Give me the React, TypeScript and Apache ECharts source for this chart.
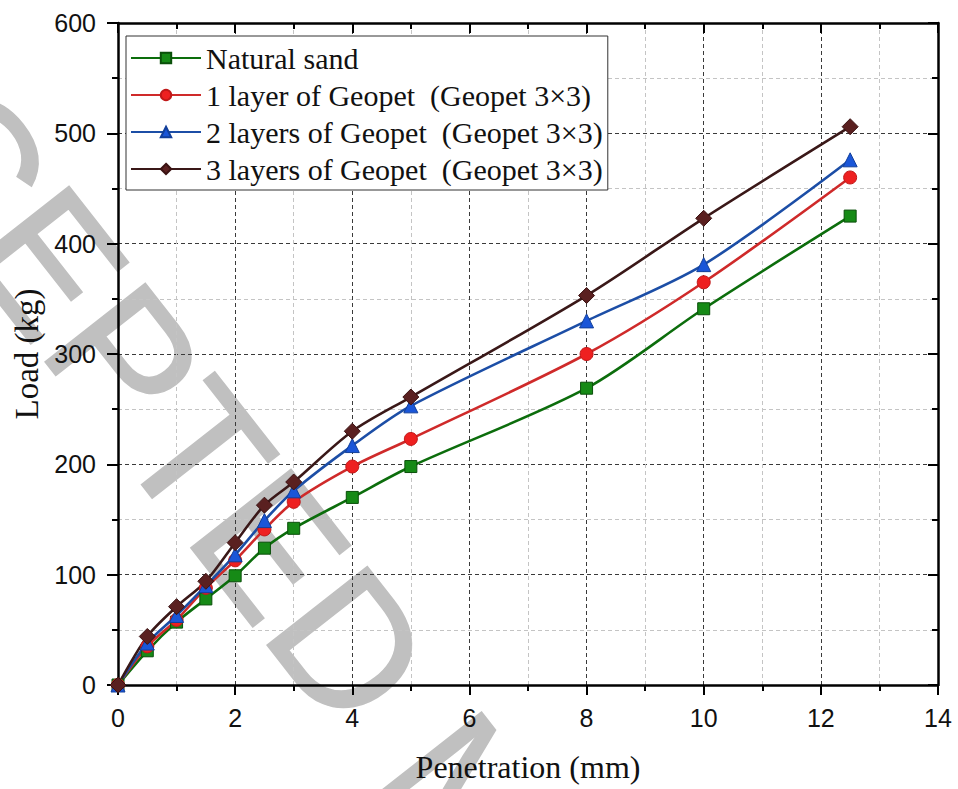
import React, { useEffect, useRef } from "react";
import * as echarts from "echarts";

const penetration = [0, 0.5, 1, 1.5, 2, 2.5, 3, 4, 5, 8, 10, 12.5];
const naturalSand = [0, 31, 57, 78, 99, 124, 142, 170, 198, 269, 341, 425];
const oneLayer = [0, 35, 59, 88, 113, 141, 166, 198, 223, 300, 365, 460];
const twoLayers = [0, 38, 63, 90, 118, 149, 176, 217, 253, 330, 381, 476];
const threeLayers = [0, 44, 71, 94, 129, 163, 184, 230, 261, 353, 423, 506];

const seriesNames = [
  "Natural sand",
  "1 layer of Geopet  (Geopet 3×3)",
  "2 layers of Geopet  (Geopet 3×3)",
  "3 layers of Geopet  (Geopet 3×3)",
];

const xTicks = { min: 0, max: 14, interval: 2 };
const yTicks = { min: 0, max: 600, interval: 100 };

const watermarkText = "ACCEPTED MANUSCRIPT";

const toPoints = (vals: number[]) => penetration.map((x, i) => [x, vals[i]]);

export default function App() {
  const ref = useRef<HTMLDivElement>(null);
  useEffect(() => {
    if (!ref.current) return;
    const chart = echarts.init(ref.current, null, { renderer: "svg" });
    const tickLabel = {
      fontFamily: "Liberation Sans",
      fontSize: 25,
      color: "#111",
    };
    const axisLine = { show: true, onZero: false, lineStyle: { color: "#000", width: 2.5 } };
    const majorGrid = { show: true, lineStyle: { type: [4, 3], color: "#3a3a3a", width: 1 } };
    const minorGrid = { show: true, lineStyle: { type: [4, 3], color: "#c4c4c4", width: 1 } };
    const mkSeries = (
      name: string,
      vals: number[],
      symbol: string,
      size: number,
      line: string,
      fill: string,
      border: string
    ) => ({
      name,
      type: "line",
      smooth: 0.3,
      data: toPoints(vals),
      symbol,
      symbolSize: size,
      lineStyle: { color: line, width: 2.6 },
      itemStyle: { color: fill, borderColor: border, borderWidth: 1 },
      z: 3,
    });
    chart.setOption({
      animation: false,
      backgroundColor: "#fff",
      grid: { left: 118, top: 23, width: 820, height: 662, containLabel: false },
      graphic: [
        {
          type: "text",
          x: -231,
          y: -94,
          rotation: -0.906,
          z: -1,
          silent: true,
          style: {
            text: watermarkText,
            fontFamily: "Liberation Sans",
            fontSize: 185,
            fill: "#c0c0c0",
            stroke: "#c0c0c0",
            lineWidth: 1.5,
            align: "left",
            verticalAlign: "middle",
          },
        },
      ],
      legend: {
        left: 126,
        top: 36,
        orient: "vertical",
        itemWidth: 70,
        itemHeight: 13,
        itemGap: 7,
        padding: [7, 5, 6, 4],
        backgroundColor: "#fff",
        borderColor: "#333",
        borderWidth: 1,
        borderRadius: 0,
        textStyle: { fontFamily: "Liberation Serif", fontSize: 30, color: "#111" },
        data: seriesNames,
        z: 10,
      },
      xAxis: [
        {
          type: "value",
          position: "bottom",
          ...xTicks,
          name: "Penetration (mm)",
          nameLocation: "middle",
          nameGap: 66,
          nameTextStyle: { fontFamily: "Liberation Serif", fontSize: 32, color: "#111" },
          axisLine,
          axisTick: { show: true, length: 10, lineStyle: { color: "#000", width: 2 } },
          minorTick: { show: true, splitNumber: 2, length: 6, lineStyle: { color: "#000", width: 2 } },
          splitLine: majorGrid,
          minorSplitLine: minorGrid,
          axisLabel: { ...tickLabel, margin: 20 },
        },
        {
          type: "value",
          position: "top",
          ...xTicks,
          axisLine,
          axisTick: { show: true, inside: true, length: 10, lineStyle: { color: "#000", width: 2 } },
          minorTick: { show: true, splitNumber: 2, length: 6, lineStyle: { color: "#000", width: 2 } },
          splitLine: { show: false },
          axisLabel: { show: false },
        },
      ],
      yAxis: [
        {
          type: "value",
          position: "left",
          ...yTicks,
          name: "Load (kg)",
          nameLocation: "middle",
          nameGap: 74,
          nameTextStyle: { fontFamily: "Liberation Serif", fontSize: 33, color: "#111" },
          axisLine,
          axisTick: { show: true, length: 11, lineStyle: { color: "#000", width: 2 } },
          minorTick: { show: true, splitNumber: 2, length: 6, lineStyle: { color: "#000", width: 2 } },
          splitLine: majorGrid,
          minorSplitLine: minorGrid,
          axisLabel: { ...tickLabel, margin: 22 },
        },
        {
          type: "value",
          position: "right",
          ...yTicks,
          axisLine,
          axisTick: { show: true, inside: true, length: 10, lineStyle: { color: "#000", width: 2 } },
          minorTick: { show: true, splitNumber: 2, length: 6, lineStyle: { color: "#000", width: 2 } },
          splitLine: { show: false },
          axisLabel: { show: false },
        },
      ],
      series: [
        mkSeries(seriesNames[0], naturalSand, "rect", 12, "#0c6d0c", "#168a16", "#0a4f0a"),
        mkSeries(seriesNames[1], oneLayer, "circle", 13, "#cf2a2a", "#ee2020", "#c01818"),
        mkSeries(seriesNames[2], twoLayers, "triangle", 14, "#1c4ea6", "#1a56d8", "#123f9a"),
        mkSeries(seriesNames[3], threeLayers, "diamond", 16, "#3a1818", "#5a2020", "#3a1212"),
      ],
    });
    return () => chart.dispose();
  }, []);
  return (
    <div
      ref={ref}
      style={{ position: "fixed", left: 0, top: 0, width: 958, height: 789, background: "#fff" }}
    />
  );
}
